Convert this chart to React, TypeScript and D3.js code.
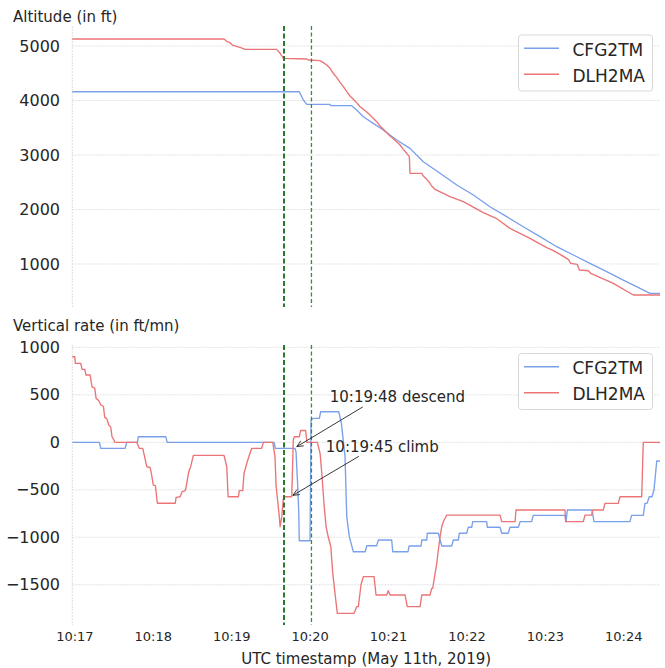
import { format, line, scaleLinear, scaleUtc } from "d3";

// seconds after 10:17:00 UTC, value
const START = Date.UTC(2019, 4, 11, 10, 17, 0);
const at = (s: number) => new Date(START + s * 1000);

const seriesNames = ["CFG2TM", "DLH2MA"];
const seriesColors = ["#7aa0ea", "#eb7476"];

const timeTicks = ["10:17", "10:18", "10:19", "10:20", "10:21", "10:22", "10:23", "10:24"];
const altitudeTicks = [1000, 2000, 3000, 4000, 5000];
const rateTicks = [-1500, -1000, -500, 0, 500, 1000];
const eventTimes = [160, 181];

const cfgAltitude: [number, number][] = [
  [-2, 4161], [171.7, 4161], [174.8, 4009], [177.4, 3930], [195.2, 3930], [195.7, 3905],
  [211.8, 3905], [215.6, 3826], [220.7, 3703], [228.3, 3581], [236.0, 3459], [246.2, 3275],
  [256.4, 3122], [266.6, 2877], [279.4, 2664], [292.2, 2449], [304.9, 2266], [317.6, 2051],
  [330.4, 1868], [343.1, 1684], [355.9, 1501], [368.7, 1317], [381.4, 1165], [394.1, 1012],
  [406.9, 859], [419.6, 706], [432.4, 554], [440.0, 462], [447.7, 462]
];

const dlhAltitude: [number, number][] = [
  [-2, 5128], [114.1, 5128], [116.2, 5086], [118.7, 5061], [120.5, 5018], [124.3, 4987],
  [126.9, 4969], [130.2, 4939], [154.4, 4939], [157.0, 4866], [158.3, 4817], [159.5, 4774],
  [177.4, 4761], [178.6, 4743], [187.6, 4731], [190.1, 4694], [192.7, 4651], [195.2, 4591],
  [197.7, 4499], [200.3, 4425], [202.9, 4334], [205.4, 4253], [208.0, 4162], [210.5, 4083],
  [213.0, 4022], [215.6, 3960], [218.2, 3886], [220.7, 3838], [223.3, 3789], [225.8, 3734],
  [228.3, 3673], [230.9, 3611], [233.5, 3532], [236.0, 3471], [238.6, 3409], [241.1, 3349],
  [243.6, 3299], [246.2, 3244], [248.8, 3183], [251.3, 3104], [253.9, 3031], [255.9, 2969],
  [256.4, 2664], [265.4, 2664], [266.6, 2615], [269.2, 2554], [271.7, 2481], [273.0, 2431],
  [275.5, 2370], [280.7, 2308], [287.0, 2235], [297.2, 2143], [312.5, 1941], [322.8, 1831],
  [332.9, 1654], [348.2, 1471], [361.0, 1299], [366.1, 1244], [371.2, 1178], [377.5, 1086],
  [379.4, 1012], [384.4, 994], [386.0, 890], [392.8, 877], [394.7, 829], [412.0, 646],
  [427.3, 431], [447.7, 431]
];

const cfgRate: [number, number][] = [
  [-2, 0], [18.7, 0], [19.8, -63], [38.4, -63], [39.7, 0], [47.8, 0], [48.5, 59], [69.5, 59],
  [70.7, 0], [152.4, 0], [153.4, -63], [168.4, -63], [169.2, -100], [170.5, -465], [171.3, -748],
  [171.7, -1037], [179.9, -1037], [180.7, 235], [182.4, 252], [187.0, 252], [188.1, 322],
  [201.9, 322], [203.9, 200], [206.7, -151], [208.0, -783], [210.0, -994], [213.0, -1152],
  [222.2, -1152], [223.3, -1089], [230.9, -1089], [232.2, -1029], [242.4, -1029], [243.2, -1152],
  [254.9, -1152], [255.7, -1092], [264.9, -1092], [265.4, -1029], [269.2, -1029], [269.6, -958],
  [278.1, -958], [280.7, -1092], [288.3, -1092], [289.6, -1029], [293.4, -1029], [294.1, -958],
  [299.8, -958], [301.0, -895], [303.6, -895], [304.4, -836], [315.1, -836], [315.6, -895],
  [325.3, -895], [326.6, -958], [331.6, -958], [332.9, -895], [339.3, -895], [340.6, -836],
  [349.5, -836], [350.7, -770], [375.0, -770], [375.8, -836], [376.8, -713], [395.7, -713],
  [397.2, -836], [424.7, -836], [426.0, -770], [434.9, -770], [436.2, -643], [437.8, -643],
  [439.5, -573], [441.6, -573], [443.1, -502], [445.2, -197], [447.7, -197]
];

const dlhRate: [number, number][] = [
  [-2, 901], [-0.1, 901], [0.3, 832], [4.5, 832], [5.5, 769], [7.5, 769], [8.5, 709], [11.6, 709],
  [13.1, 585], [15.2, 570], [16.2, 463], [18.2, 440], [19.8, 393], [21.8, 380], [22.8, 263],
  [24.4, 250], [25.9, 182], [27.4, 160], [28.4, 59], [30.0, 20], [30.5, 0], [47.3, 0],
  [49.3, -63], [51.9, -63], [55.0, -257], [57.5, -264], [58.5, -326], [60.0, -450], [61.6, -457],
  [63.1, -642], [76.8, -642], [77.4, -579], [80.5, -573], [82.0, -520], [84.5, -509],
  [85.6, -432], [87.1, -309], [88.6, -257], [90.6, -137], [114.1, -137], [116.2, -257],
  [117.2, -573], [125.1, -573], [125.8, -509], [128.4, -509], [129.4, -326], [131.9, -204],
  [133.5, -134], [135.3, -63], [142.9, -63], [144.2, 0], [151.4, 0], [153.1, -150], [153.9, -450],
  [156.4, -783], [157.0, -889], [158.3, -783], [159.5, -590], [160.2, -573], [165.9, -573],
  [167.1, 24], [167.9, 59], [171.7, 59], [172.8, 125], [176.5, 125], [177.6, 0], [185.5, 0],
  [187.6, -116], [188.9, -326], [190.6, -650], [192.2, -889], [193.9, -1000], [195.8, -1099],
  [197.3, -1380], [199.0, -1590], [200.8, -1801], [213.6, -1801], [215.6, -1731], [216.9, -1731],
  [218.9, -1500], [220.7, -1415], [228.9, -1415], [230.4, -1608], [238.6, -1608], [239.8, -1562],
  [241.1, -1608], [252.6, -1608], [254.3, -1731], [264.1, -1731], [265.4, -1608], [271.7, -1608],
  [273.0, -1538], [273.8, -1538], [275.6, -1380], [276.9, -1274], [278.1, -1134], [279.4, -994],
  [280.7, -889], [281.9, -836], [284.5, -766], [325.3, -766], [326.6, -836], [336.8, -836],
  [337.5, -713], [375.0, -713], [375.5, -836], [389.0, -836], [390.3, -766], [395.4, -766],
  [396.2, -713], [404.3, -713], [405.6, -643], [415.8, -643], [417.1, -573], [433.7, -573],
  [434.9, 0], [447.7, 0]
];

const rateAnnotations = [
  { label: "10:19:48 descend", target: [168, -60], text: [195, 420] },
  { label: "10:19:45 climb", target: [165, -573], text: [192, -100] }
];

const WIDTH = 665;
const HEIGHT = 668;
const PLOT_LEFT = 72.3;
const PLOT_RIGHT = 660;
const FONT = "DejaVu Sans, sans-serif";
const INK = "#262626";

const x = scaleUtc().domain([at(-2), at(447.7)]).range([PLOT_LEFT, PLOT_RIGHT]);
const tickDate = (label: string) => {
  const [h, m] = label.split(":").map(Number);
  return new Date(Date.UTC(2019, 4, 11, h, m, 0));
};
const fmt = format("d");

type PanelProps = {
  title: string;
  titleY: number;
  top: number;
  bottom: number;
  domain: [number, number];
  ticks: number[];
  series: [number, number][][];
  legendTop: number;
  annotations?: typeof rateAnnotations;
};

function Panel({ title, titleY, top, bottom, domain, ticks, series, legendTop, annotations = [] }: PanelProps) {
  const y = scaleLinear().domain(domain).range([bottom, top]);
  const path = line<[number, number]>()
    .x((d) => x(at(d[0])))
    .y((d) => y(d[1]));

  return (
    <g>
      <text x={13} y={titleY} fontSize={15} fill={INK}>{title}</text>
      {ticks.map((t) => (
        <g key={t}>
          <line x1={PLOT_LEFT} x2={PLOT_RIGHT} y1={y(t)} y2={y(t)} stroke="#dcdcdc" strokeWidth={0.8} strokeDasharray="2 1" />
          <text x={60} y={y(t)} dy="0.35em" textAnchor="end" fontSize={16} fill={INK}>{fmt(t)}</text>
        </g>
      ))}
      <line x1={PLOT_LEFT} x2={PLOT_LEFT} y1={top} y2={bottom} stroke="#d4d4d4" strokeWidth={0.8} strokeDasharray="2 1" />
      {series.map((s, i) => (
        <path key={i} d={path(s) ?? ""} fill="none" stroke={seriesColors[i]} strokeWidth={1.35} strokeLinejoin="round" />
      ))}
      {eventTimes.map((t, i) => (
        <line
          key={t}
          x1={x(at(t))}
          x2={x(at(t))}
          y1={top}
          y2={bottom}
          stroke={i === 0 ? "#2b7a2b" : "#3a8a3a"}
          strokeWidth={i === 0 ? 2 : 1.3}
          strokeDasharray={i === 0 ? "5 2.5" : "4 2.5"}
        />
      ))}
      {annotations.map((a) => {
        const tx = x(at(a.text[0]));
        const ty = y(a.text[1]);
        const ex = x(at(a.target[0]));
        const ey = y(a.target[1]);
        const sx = tx + 33;
        const sy = ty + 4.5;
        const len = Math.hypot(ex - sx, ey - sy);
        const ux = (ex - sx) / len;
        const uy = (ey - sy) / len;
        const hx = ex - ux * 2.7;
        const hy = ey - uy * 2.7;
        const head = 7;
        const spread = 0.42;
        const a1 = Math.atan2(uy, ux) + Math.PI - spread;
        const a2 = Math.atan2(uy, ux) + Math.PI + spread;
        return (
          <g key={a.label}>
            <text x={tx} y={ty} fontSize={15} fill={INK}>{a.label}</text>
            <line x1={sx} y1={sy} x2={hx} y2={hy} stroke="#222" strokeWidth={0.9} />
            <path
              d={`M${hx + Math.cos(a1) * head},${hy + Math.sin(a1) * head}L${hx},${hy}L${hx + Math.cos(a2) * head},${hy + Math.sin(a2) * head}`}
              fill="none"
              stroke="#222"
              strokeWidth={0.9}
            />
          </g>
        );
      })}
      <g transform={`translate(518.5, ${legendTop})`}>
        <rect width={134} height={56} rx={3} fill="white" fillOpacity={0.85} stroke="#d8d8d8" strokeWidth={1} />
        {seriesNames.map((name, i) => (
          <g key={name}>
            <line x1={5.5} x2={40.5} y1={13.3 + i * 26} y2={13.3 + i * 26} stroke={seriesColors[i]} strokeWidth={1.4} />
            <text x={54} y={20.7 + i * 26} fontSize={17} fill={INK}>{name}</text>
          </g>
        ))}
      </g>
    </g>
  );
}

export default function App() {
  return (
    <svg
      width={WIDTH}
      height={HEIGHT}
      viewBox={`0 0 ${WIDTH} ${HEIGHT}`}
      style={{ position: "absolute", left: 0, top: 0, background: "white" }}
      fontFamily={FONT}
    >
      <rect width={WIDTH} height={HEIGHT} fill="white" />
      <Panel
        title="Altitude (in ft)"
        titleY={22}
        top={26}
        bottom={307}
        domain={[211, 5367]}
        ticks={altitudeTicks}
        series={[cfgAltitude, dlhAltitude]}
        legendTop={35}
      />
      <Panel
        title="Vertical rate (in ft/mn)"
        titleY={331}
        top={345}
        bottom={625}
        domain={[-1924, 1025]}
        ticks={rateTicks}
        series={[cfgRate, dlhRate]}
        legendTop={353.5}
        annotations={rateAnnotations}
      />
      {timeTicks.map((label) => (
        <text key={label} x={x(tickDate(label))} y={641} textAnchor="middle" fontSize={13} fill={INK}>
          {label}
        </text>
      ))}
      <text x={(PLOT_LEFT + PLOT_RIGHT) / 2} y={663.5} textAnchor="middle" fontSize={15} fill={INK}>
        UTC timestamp (May 11th, 2019)
      </text>
    </svg>
  );
}
